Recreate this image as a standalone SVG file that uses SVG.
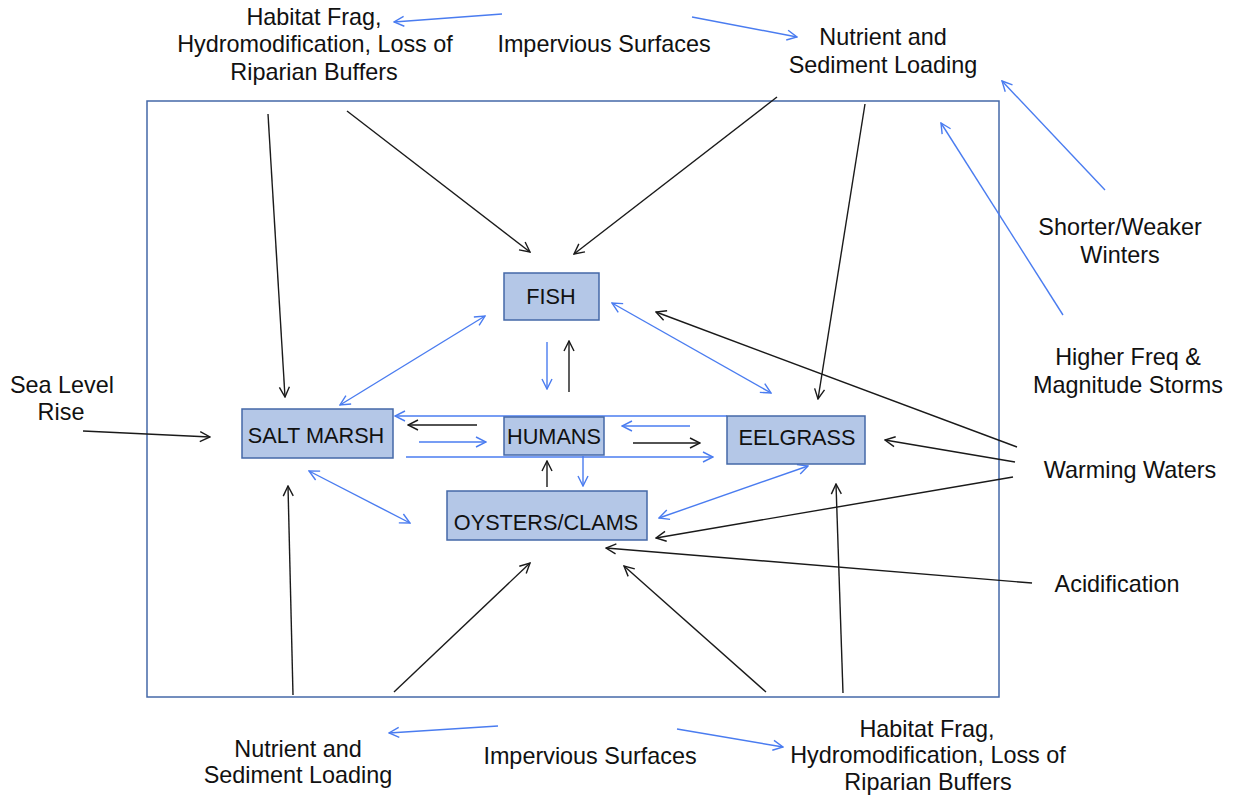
<svg xmlns="http://www.w3.org/2000/svg" width="1233" height="796" viewBox="0 0 1233 796">
<style>
  .lbl{font-family:"Liberation Sans",Arial,sans-serif;font-size:23.4px;fill:#111;text-anchor:middle}
  .nl{font-family:"Liberation Sans",Arial,sans-serif;font-size:21.7px;fill:#111;text-anchor:middle}
  .box{fill:#b4c7e7;stroke:#4468a8;stroke-width:1.5}
  .k{stroke:#1a1a1a;stroke-width:1.4;fill:none;marker-end:url(#ak)}
  .b{stroke:#4a7cf0;stroke-width:1.4;fill:none;marker-end:url(#ab)}
  .bb{stroke:#4a7cf0;stroke-width:1.4;fill:none;marker-end:url(#ab);marker-start:url(#ab)}
</style>
<defs>
  <marker id="ak" viewBox="0 0 12 12" refX="11" refY="6" markerWidth="12" markerHeight="12" markerUnits="userSpaceOnUse" orient="auto-start-reverse"><path d="M1,1 L11,6 L1,11" fill="none" stroke="#1a1a1a" stroke-width="1.4"/></marker>
  <marker id="ab" viewBox="0 0 12 12" refX="11" refY="6" markerWidth="12" markerHeight="12" markerUnits="userSpaceOnUse" orient="auto-start-reverse"><path d="M1,1 L11,6 L1,11" fill="none" stroke="#4a7cf0" stroke-width="1.4"/></marker>
</defs>
<rect width="1233" height="796" fill="#fff"/>
<rect id="frame" x="147" y="101" width="852" height="596" fill="none" stroke="#4468a8" stroke-width="1.5"/>

<g id="connectors">
  <line class="b" x1="502" y1="14" x2="394" y2="22"/>
  <line class="b" x1="692" y1="17" x2="797" y2="37"/>
  <line class="b" x1="1105" y1="190" x2="1002" y2="81"/>
  <line class="b" x1="1063" y1="315" x2="941" y2="123"/>
  <line class="k" x1="268" y1="114" x2="285" y2="397"/>
  <line class="k" x1="347" y1="111" x2="530" y2="252"/>
  <line class="k" x1="777" y1="97" x2="574" y2="254"/>
  <line class="k" x1="865" y1="104" x2="818" y2="399"/>
  <line class="k" x1="1017" y1="447" x2="656" y2="312"/>
  <line class="k" x1="1015" y1="462" x2="885" y2="440"/>
  <line class="k" x1="1013" y1="477" x2="656" y2="538"/>
  <line class="k" x1="1032" y1="583" x2="606" y2="548"/>
  <line class="k" x1="83" y1="431" x2="210" y2="437"/>
  <line class="k" x1="293" y1="695" x2="288" y2="486"/>
  <line class="k" x1="394" y1="692" x2="530" y2="563"/>
  <line class="k" x1="766" y1="692" x2="624" y2="566"/>
  <line class="k" x1="843" y1="693" x2="836" y2="484"/>
  <line class="b" x1="498" y1="726" x2="389" y2="733"/>
  <line class="b" x1="677" y1="729" x2="783" y2="747"/>
  <line class="bb" x1="485" y1="316" x2="340" y2="405"/>
  <line class="bb" x1="612" y1="303" x2="771" y2="393"/>
  <line class="bb" x1="309" y1="471" x2="410" y2="523"/>
  <line class="bb" x1="808" y1="466" x2="659" y2="518"/>
  <line class="b" x1="547" y1="342" x2="547" y2="389"/>
  <line class="k" x1="569" y1="392" x2="569" y2="341"/>
  <line class="b" x1="727" y1="416" x2="395" y2="416"/>
  <line class="k" x1="477" y1="425" x2="408" y2="425"/>
  <line class="b" x1="419" y1="442" x2="486" y2="442"/>
  <line class="b" x1="406" y1="457" x2="713" y2="457"/>
  <line class="b" x1="690" y1="426" x2="622" y2="426"/>
  <line class="k" x1="633" y1="443" x2="700" y2="443"/>
  <line class="k" x1="547" y1="487" x2="547" y2="461"/>
  <line class="b" x1="583" y1="456" x2="583" y2="486"/>
</g>

<g id="fish"><rect class="box" x="504" y="273" width="95" height="47"/><text class="nl" x="551" y="304">FISH</text></g>
<g id="saltmarsh"><rect class="box" x="242" y="409" width="151" height="49"/><text class="nl" x="316" y="443">SALT MARSH</text></g>
<g id="humans"><rect class="box" x="504" y="417" width="100" height="38"/><text class="nl" x="554" y="444">HUMANS</text></g>
<g id="eelgrass"><rect class="box" x="727" y="416" width="138" height="48"/><text class="nl" x="797" y="445">EELGRASS</text></g>
<g id="oysters"><rect class="box" x="447" y="491" width="200" height="49"/><text class="nl" x="546" y="530">OYSTERS/CLAMS</text></g>

<g id="habitat-top"><text class="lbl" x="314" y="25">Habitat Frag,</text><text class="lbl" x="315" y="52">Hydromodification, Loss of</text><text class="lbl" x="314" y="80">Riparian Buffers</text></g>
<g id="impervious-top"><text class="lbl" x="604" y="52">Impervious Surfaces</text></g>
<g id="nutrient-top"><text class="lbl" x="883" y="45">Nutrient and</text><text class="lbl" x="883" y="73">Sediment Loading</text></g>
<g id="winters"><text class="lbl" x="1120" y="235">Shorter/Weaker</text><text class="lbl" x="1120" y="263">Winters</text></g>
<g id="storms"><text class="lbl" x="1128" y="365">Higher Freq &amp;</text><text class="lbl" x="1128" y="393">Magnitude Storms</text></g>
<g id="warming"><text class="lbl" x="1130" y="478">Warming Waters</text></g>
<g id="acid"><text class="lbl" x="1117" y="592">Acidification</text></g>
<g id="sealevel"><text class="lbl" x="62" y="393">Sea Level</text><text class="lbl" x="61" y="420">Rise</text></g>
<g id="nutrient-bottom"><text class="lbl" x="298" y="757">Nutrient and</text><text class="lbl" x="298" y="783">Sediment Loading</text></g>
<g id="impervious-bottom"><text class="lbl" x="590" y="764">Impervious Surfaces</text></g>
<g id="habitat-bottom"><text class="lbl" x="927" y="737">Habitat Frag,</text><text class="lbl" x="928" y="763">Hydromodification, Loss of</text><text class="lbl" x="928" y="790">Riparian Buffers</text></g>
</svg>
